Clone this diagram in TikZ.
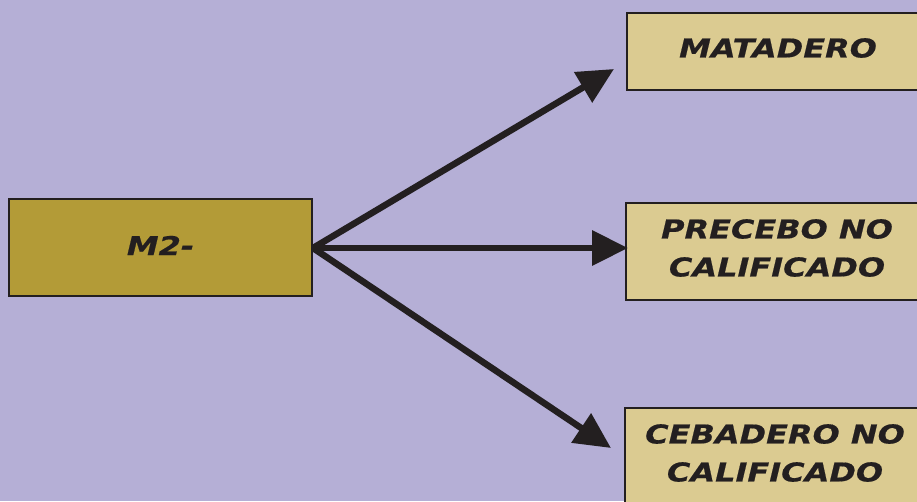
\documentclass[tikz,border=0pt]{standalone}
\usepackage{fontspec}
\newfontfamily\boxfont[FakeStretch=1.23,FakeBold=0.6]{DejaVu Sans Bold Oblique}
\usetikzlibrary{arrows.meta}
\definecolor{bgc}{HTML}{B5AFD6}
\definecolor{srcc}{HTML}{B39B37}
\definecolor{dstc}{HTML}{DBCB91}
\definecolor{inkc}{HTML}{231F20}
\tikzset{
  boxsty/.style={draw=inkc, line width=2pt, minimum width=302pt, minimum height=97pt,
    inner sep=0pt, anchor=north west},
  lbl/.style={inner sep=0pt, align=center, text=inkc, font=\boxfont\fontsize{26}{38}\selectfont},
  arr/.style={draw=inkc, line width=6.5pt, -{Triangle[length=36pt,width=34pt]}}
}
\begin{document}
\begin{tikzpicture}[x=1pt,y=-1pt]
\useasboundingbox (0,0) rectangle (917,501);
\clip (0,0) rectangle (917,501);
\fill[bgc] (0,0) rectangle (917,501);
\node[boxsty, fill=srcc, minimum width=303pt] (src) at (8,198) {};
\node[boxsty, fill=dstc, minimum height=77pt] (mat) at (626,12) {};
\node[boxsty, fill=dstc] (pre) at (625,202) {};
\node[boxsty, fill=dstc] (ceb) at (624,407) {};
\node[lbl] (srcl) at ([yshift=2pt]src.center) {M2-};
\node[lbl] (matl) at ([yshift=3.5pt]mat.center) {MATADERO};
\node[lbl] (prel) at ([yshift=3.5pt]pre.center) {PRECEBO NO\\CALIFICADO};
\node[lbl] (cebl) at (775,453) {CEBADERO NO\\CALIFICADO};
\coordinate (o) at (313,248);
\coordinate (t1) at (614,69);
\coordinate (t2) at (628,248);
\coordinate (t3) at (611,448);
\draw[arr] (o) -- (t1);
\draw[arr] (o) -- (t2);
\draw[arr] (o) -- (t3);
\end{tikzpicture}
\end{document}
